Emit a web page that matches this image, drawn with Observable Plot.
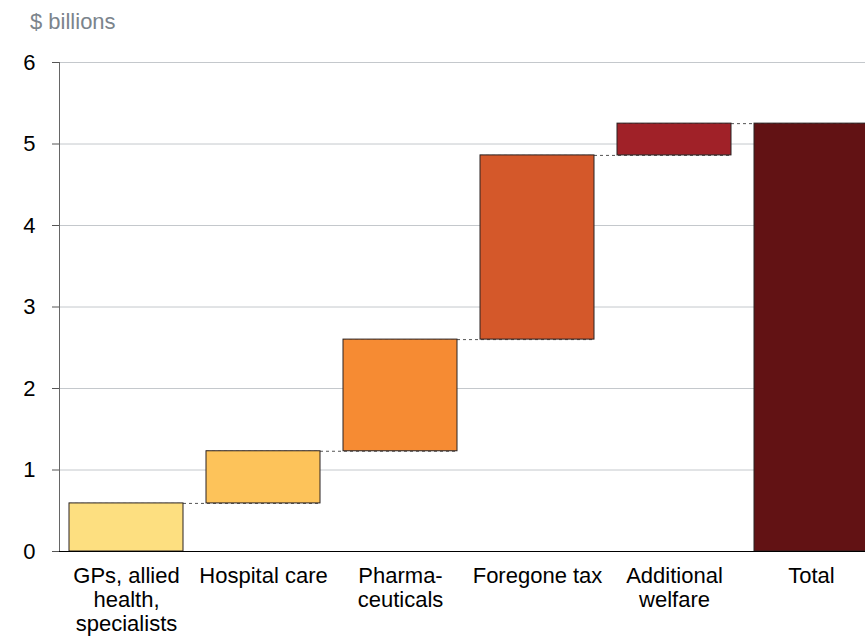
<!DOCTYPE html>
<html>
<head>
<meta charset="utf-8">
<script src="https://cdn.jsdelivr.net/npm/d3@7"></script>
<script src="https://cdn.jsdelivr.net/npm/@observablehq/plot@0.6"></script>
<style>
  html, body { margin: 0; padding: 0; background: white; overflow: hidden; }
  #title { font-family: "Liberation Sans", Arial, sans-serif; font-size: 22px; color: #7b848c; height: 44px; box-sizing: border-box; padding: 9px 0 0 30px; line-height: 25px; }
  svg { overflow: hidden !important; }
</style>
</head>
<body>
<div id="title">$ billions</div>
<div id="chart"></div>
<script>
const categories = ["GPs, allied health, specialists", "Hospital care", "Pharmaceuticals", "Foregone tax", "Additional welfare", "Total"];
const labels = ["GPs, allied\nhealth,\nspecialists", "Hospital care", "Pharma-\nceuticals", "Foregone tax", "Additional\nwelfare", "Total"];
const increments = [0.59, 0.64, 1.37, 2.26, 0.39];
const colors = ["#fddf80", "#fdc35a", "#f68b33", "#d4582a", "#a02128", "#621214"];
const yTicks = [0, 1, 2, 3, 4, 5, 6];

// Build waterfall table
let run = 0;
const bars = increments.map((v, i) => {
  const start = run; run += v;
  return {cat: categories[i], start, end: run, color: colors[i]};
});
bars.push({cat: categories[5], start: 0, end: run, color: colors[5]});
const connectors = bars.slice(0, -1).map((b, i) => ({from: b.cat, to: bars[i + 1].cat, level: b.end}));
const labelOf = new Map(categories.map((c, i) => [c, labels[i]]));

const chart = Plot.plot({
  width: 865,
  height: 594,
  marginTop: 18,
  marginBottom: 87,
  marginLeft: 59,
  marginRight: 0,
  style: {fontFamily: "'Liberation Sans', Arial, sans-serif", fontSize: "22px", background: "white"},
  x: {domain: categories, range: [57, 879], paddingInner: 0.17, paddingOuter: 0.075},
  y: {domain: [0, 6]},
  color: {type: "identity"},
  marks: [
    Plot.gridY(yTicks.slice(1), {stroke: "#c4c8cc", strokeOpacity: 1}),
    Plot.ruleY(connectors, {y: "level", x1: "from", x2: "to", stroke: "#555", strokeDasharray: "3,3"}),
    Plot.rectY(bars, {x: "cat", y1: "start", y2: "end", fill: "color", stroke: "#2a2222", strokeWidth: 1, inset: 0}),
    Plot.frame({anchor: "left", stroke: "#666"}),
    Plot.ruleY([0], {stroke: "black"}),
    Plot.axisY(yTicks, {tickSize: 7, tickPadding: 17, fontSize: 22, stroke: "#555", strokeOpacity: 1, fill: "black", label: null, tickFormat: d => String(d)}),
    Plot.axisX({tickSize: 0, tickPadding: 14, fontSize: 22, lineHeight: 1.1, fill: "black", label: null, tickFormat: d => labelOf.get(d)})
  ]
});
document.getElementById("chart").appendChild(chart);
</script>
</body>
</html>
